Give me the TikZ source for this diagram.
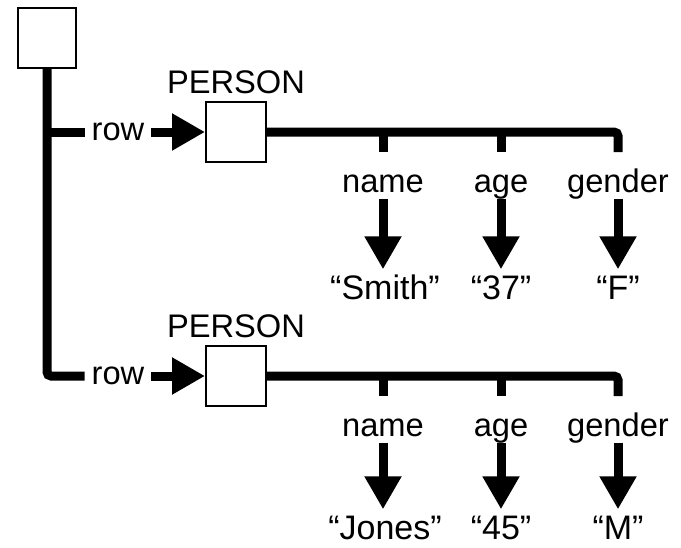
\documentclass[tikz,border=0pt]{standalone}
\usepackage{fontspec}
\setmainfont{Liberation Sans}
\usetikzlibrary{arrows.meta}
\begin{document}
\begin{tikzpicture}[x=0.75pt,y=-0.75pt,
  wire/.style={line width=6.75pt},
  elbow/.style={wire,rounded corners=3pt},
  bigtip/.style={wire,-{Triangle[length=24.75pt,width=26.25pt]}},
  recbox/.style={draw,line width=1.5pt,inner sep=0pt},
  lbl/.style={font=\fontsize{24.5}{29}\selectfont,inner sep=0pt},
  rowlbl/.style={lbl,inner xsep=5pt},
  field/.style={lbl,anchor=base,text height=0.75em,text depth=0.25em},
  val/.style={font=\fontsize{25.5}{30}\selectfont,inner sep=0pt,anchor=base,text height=0.75em,text depth=0pt}]
\useasboundingbox (0,0) rectangle (681,547);

% root record
\node[recbox,minimum width=43.5pt,minimum height=45pt] (top) at (47,38) {};

\foreach \r/\yy/\vy/\va/\vb/\vc in {1/132/299/Smith/37/F, 2/376/539/Jones/45/M}{
  % row link and PERSON record
  \node[rowlbl] (r\r) at (118,\yy) {row};
  \node[recbox,minimum width=45pt,minimum height=45pt] (p\r) at (236,\yy) {};
  \node[lbl,anchor=base] (t\r) at (236,\yy-39) {PERSON};
  \draw[bigtip] (r\r.east) -- (p\r.west);

  % field stubs
  \coordinate (na\r) at (383,\yy+20);
  \coordinate (ag\r) at (501,\yy+20);
  \coordinate (ge\r) at (618,\yy+20);
  \draw[elbow] (p\r.east) -| (ge\r);
  \draw[wire] (na\r |- p\r.east) -- (na\r);
  \draw[wire] (ag\r |- p\r.east) -- (ag\r);

  % field names
  \node[field] (fa\r) at (383,\yy+60) {name};
  \node[field] (fb\r) at (501,\yy+60) {age};
  \node[field] (fc\r) at (618,\yy+60) {gender};

  % field values
  \node[val] (va\r) at (385,\vy) {“\va”};
  \node[val] (vb\r) at (501,\vy) {“\vb”};
  \node[val] (vc\r) at (618,\vy) {“\vc”};

  \foreach \k in {a,b,c}{
    \draw[bigtip,shorten <=2.25pt,shorten >=14.6pt]
      (f\k\r.south) -- (f\k\r.south |- v\k\r.north);
  }
}

% trunk from the root record to both rows
\draw[elbow] (top.south) |- (r2.west);
\draw[wire] (top.south |- r1.west) -- (r1.west);
\end{tikzpicture}
\end{document}
